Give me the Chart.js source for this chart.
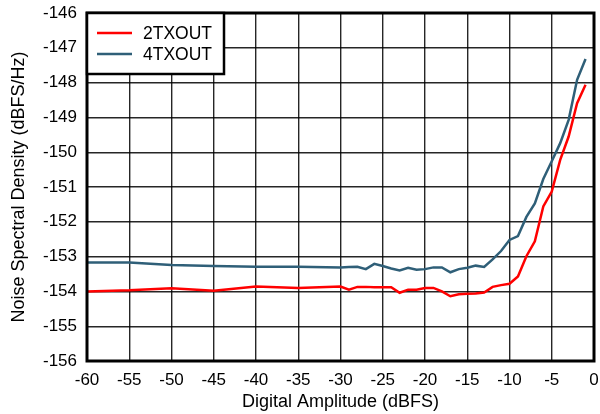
<!DOCTYPE html>
<html>
<head>
<meta charset="utf-8">
<script src="https://cdn.jsdelivr.net/npm/chart.js@4"></script>
<style>
  html, body { margin: 0; padding: 0; background: #fff; }
  #wrap { width: 600px; height: 414px; }
</style>
</head>
<body>
<div id="wrap"><canvas id="myChart" width="600" height="414"></canvas></div>
<script>
// amplitude points (dBFS)
const amplitude = [-60, -55, -50, -45, -40, -35, -30, -29, -28, -27, -26, -25, -24, -23, -22, -21,
  -20, -19, -18, -17, -16, -15, -14, -13, -12, -11, -10, -9, -8, -7, -6, -5, -4, -3, -2, -1];

const tx2 = [-154.00, -153.97, -153.91, -153.98, -153.86, -153.90, -153.86, -153.95, -153.87, -153.87,
  -153.88, -153.88, -153.88, -154.04, -153.95, -153.95, -153.90, -153.90, -154.00, -154.14,
  -154.08, -154.07, -154.06, -154.03, -153.87, -153.82, -153.78, -153.57, -152.99, -152.56,
  -151.56, -151.13, -150.22, -149.55, -148.59, -148.06];

const tx4 = [-153.17, -153.17, -153.24, -153.27, -153.29, -153.29, -153.31, -153.30, -153.29, -153.36,
  -153.21, -153.27, -153.34, -153.40, -153.32, -153.38, -153.36, -153.31, -153.31, -153.45,
  -153.36, -153.32, -153.26, -153.30, -153.08, -152.84, -152.52, -152.41, -151.86, -151.47,
  -150.77, -150.26, -149.74, -149.07, -147.92, -147.32];

const seriesNames = ['2TXOUT', '4TXOUT'];
const seriesColors = ['#ff0000', '#2f5f78'];

const toPoints = (ys) => amplitude.map((x, i) => ({ x: x, y: ys[i] }));

// frame + legend drawn inside the plot area, like the original figure
const frameLegend = {
  id: 'frameLegend',
  afterDatasetsDraw(chart) {
    const ctx = chart.ctx;
    const a = chart.chartArea;
    ctx.save();
    ctx.strokeStyle = '#000';
    ctx.lineWidth = 3;
    ctx.strokeRect(a.left, a.top, a.right - a.left, a.bottom - a.top);

    // legend box
    const bx = a.left, by = a.top, bw = 137, bh = 61;
    ctx.fillStyle = '#fff';
    ctx.fillRect(bx, by, bw, bh);
    ctx.lineWidth = 2.5;
    ctx.strokeRect(bx, by, bw, bh);
    ctx.font = '17.5px "Liberation Sans", Arial, sans-serif';
    ctx.textBaseline = 'middle';
    chart.data.datasets.forEach((ds, i) => {
      const y = by + 20 + i * 21;
      ctx.strokeStyle = ds.borderColor;
      ctx.lineWidth = 2.5;
      ctx.beginPath();
      ctx.moveTo(bx + 10, y);
      ctx.lineTo(bx + 45, y);
      ctx.stroke();
      ctx.fillStyle = '#000';
      ctx.fillText(ds.label, bx + 56, y + 1);
    });
    ctx.restore();
  }
};

let draw = () => {
  const ctx = document.getElementById('myChart');
  const dataset = {
    datasets: [tx2, tx4].map((ys, i) => ({
      label: seriesNames[i],
      data: toPoints(ys),
      borderColor: seriesColors[i],
      backgroundColor: seriesColors[i],
      borderWidth: 2.5,
      pointRadius: 0,
      fill: false,
      tension: 0
    }))
  };
  const family = '"Liberation Sans", Arial, sans-serif';
  const tickFont = { family: family, size: 17 };
  const titleFont = { family: family, size: 18 };
  const config = {
    type: 'line',
    data: dataset,
    options: {
      responsive: false,
      animation: false,
      layout: { padding: { top: 13, right: 6, left: 0, bottom: 0 } },
      plugins: { legend: { display: false }, tooltip: { enabled: false } },
      scales: {
        x: {
          type: 'linear',
          min: -60, max: 0,
          afterFit: (s) => { s.height = 53; s.paddingLeft = 0; s.paddingRight = 0; },
          ticks: { stepSize: 5, color: '#000', font: tickFont, padding: 9, maxRotation: 0 },
          grid: { color: 'rgba(0,0,0,0.85)', lineWidth: 1.4, drawTicks: false },
          border: { display: false },
          title: { display: true, text: 'Digital Amplitude (dBFS)', color: '#000', font: titleFont, padding: { top: 0, bottom: 1 } }
        },
        y: {
          min: -156, max: -146,
          afterFit: (s) => { s.width = 87; s.paddingTop = 0; s.paddingBottom = 0; },
          ticks: { stepSize: 1, color: '#000', font: tickFont, padding: 10 },
          grid: { color: 'rgba(0,0,0,0.85)', lineWidth: 1.4, drawTicks: false },
          border: { display: false },
          title: { display: true, text: 'Noise Spectral Density (dBFS/Hz)', color: '#000', font: titleFont, padding: { top: 8, bottom: 0 } }
        }
      }
    },
    plugins: [frameLegend]
  };
  const chart = new Chart(ctx, config);
};

draw();
</script>
</body>
</html>
